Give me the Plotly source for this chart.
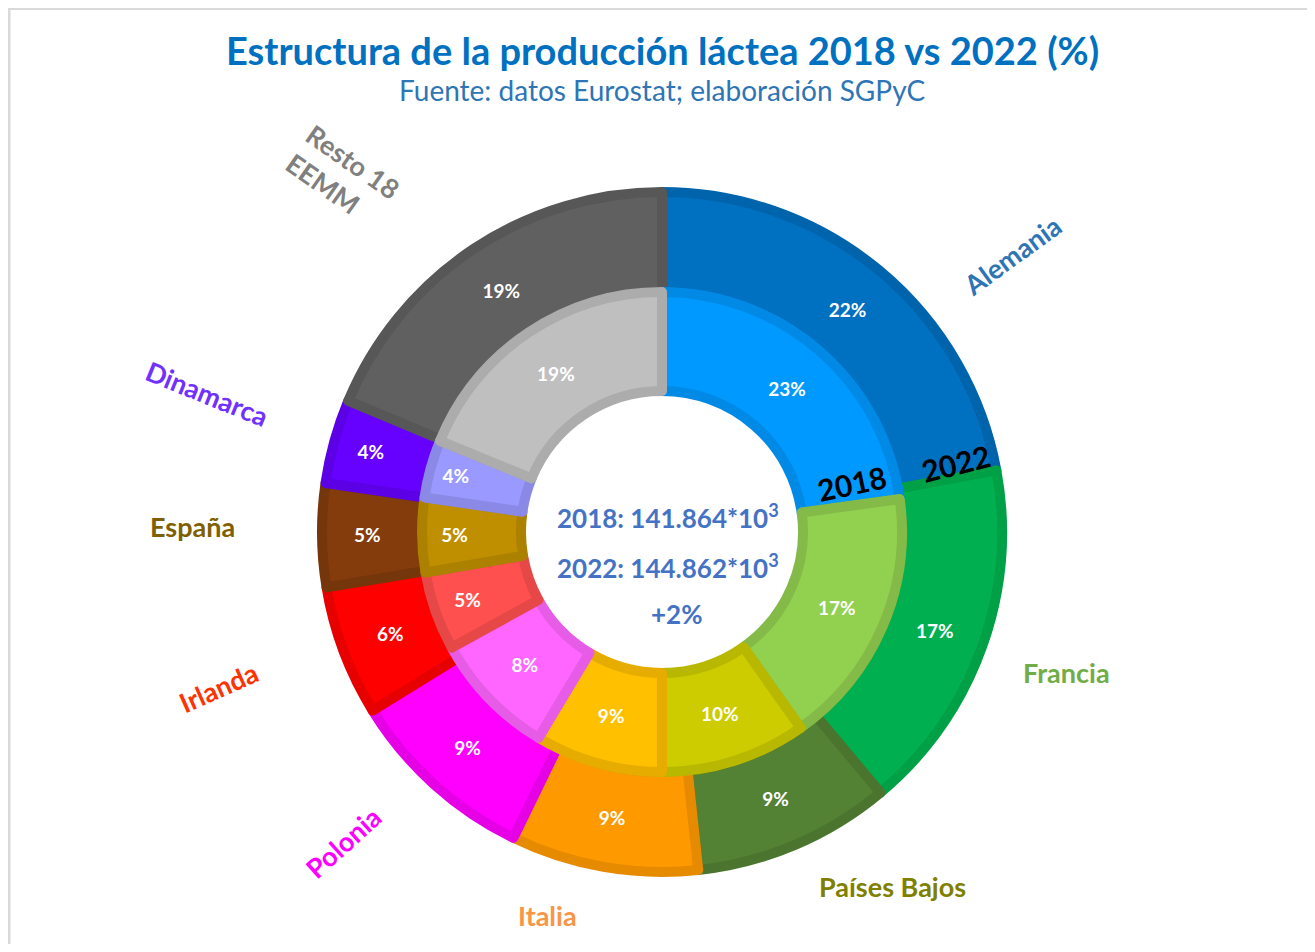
import plotly.graph_objects as go

# The page body has an 8px margin; the figure is shrunk and coordinates shifted.
OFF = 8
W, H = 1315 - 2 * OFF, 952 - 2 * OFF

countries = ["Alemania", "Francia", "Países Bajos", "Italia", "Polonia",
             "Irlanda", "España", "Dinamarca", "Resto 18 EEMM"]
share_2022 = [22.1, 16.8, 9.4, 8.9, 9.0, 6.2, 4.9, 4.0, 18.7]
share_2018 = [22.8, 17.4, 9.8, 8.6, 8.4, 5.3, 5.0, 3.9, 18.8]

fill_2022 = ["#0070C0", "#00B050", "#548235", "#FF9900", "#FF00FF",
             "#FF0000", "#843C0C", "#6600FF", "#606060"]
edge_2022 = ["#0064AC", "#00A046", "#4B752F", "#E68A00", "#E600E6",
             "#E60000", "#76360B", "#5C00E6", "#575757"]
fill_2018 = ["#0099FF", "#92D050", "#CCCC00", "#FFC000", "#FF66FF",
             "#FF5050", "#BF8F00", "#9999FF", "#BFBFBF"]
edge_2018 = ["#008AE6", "#84BB48", "#B8B800", "#E6AD00", "#E65CE6",
             "#E64848", "#AC8100", "#8A8AE6", "#ACACAC"]

label_colors = ["#2E75B6", "#70AD47", "#808000", "#F79646", "#FF00FF",
                "#FF3300", "#7F6000", "#7030FF", "#808080"]
label_text = ["Alemania", "Francia", "Países Bajos", "Italia", "Polonia",
              "Irlanda", "España", "Dinamarca", "Resto 18<br>EEMM"]

total_2018 = "141.864"
total_2022 = "144.862"
change = "+2%"

CX, CY = 662 - OFF, 532 - OFF  # pixel centre inside the figure
R_OUT, R_MID, R_HOLE = 340, 240, 141
EDGE_W = 10


def dom(r):
    return dict(x=[(CX - r) / W, (CX + r) / W],
                y=[(H - CY - r) / H, (H - CY + r) / H])


pct_font = dict(family="Lato", size=19, color="white", weight="bold")

fig = go.Figure()
fig.add_trace(go.Pie(
    labels=countries, values=share_2022, sort=False, direction="clockwise",
    rotation=0, hole=R_MID / R_OUT, domain=dom(R_OUT),
    marker=dict(colors=fill_2022, line=dict(color=edge_2022, width=EDGE_W)),
    textinfo="percent", texttemplate="%{percent:.0%}",
    textposition="inside", insidetextorientation="horizontal",
    textfont=pct_font, hoverinfo="label+percent", showlegend=False, name="2022"))
fig.add_trace(go.Pie(
    labels=countries, values=share_2018, sort=False, direction="clockwise",
    rotation=0, hole=R_HOLE / R_MID, domain=dom(R_MID),
    marker=dict(colors=fill_2018, line=dict(color=edge_2018, width=EDGE_W)),
    textinfo="percent", texttemplate="%{percent:.0%}",
    textposition="inside", insidetextorientation="horizontal",
    textfont=pct_font, hoverinfo="label+percent", showlegend=False, name="2018"))

ann = []


def add(text, px, py, size, color, bold=True, angle=0, align="center"):
    px, py = px - OFF, py - OFF
    ann.append(dict(text=text, x=px / W, y=1 - py / H, xref="paper", yref="paper",
                    showarrow=False, xanchor="center", yanchor="middle",
                    textangle=angle, align=align,
                    font=dict(family="Lato", size=size, color=color,
                              weight="bold" if bold else "normal")))


add("Estructura de la producción láctea 2018 vs 2022 (%)", 662, 50, 38, "#0070C0")
add("Fuente: datos Eurostat; elaboración SGPyC", 662, 90, 28, "#2E75B6", bold=False)

add(f"2018: {total_2018}*10<sup>3</sup>", 668, 517, 26, "#4472C4")
add(f"2022: {total_2022}*10<sup>3</sup>", 668, 566, 26, "#4472C4")
add(change, 677, 614, 26, "#4472C4")

add("2018", 852, 483, 30, "black", angle=-12)
add("2022", 956, 463, 30, "black", angle=-14)

label_pos = [(1012, 256, -36), (1066, 672, 0), (892, 886, 0), (547, 915, 0),
             (343, 842, -42), (218, 687, -24), (192, 526, 0), (207, 393, 22),
             (343, 176, 35)]
for t, (px, py, a), c in zip(label_text, label_pos, label_colors):
    add(t, px, py, 27, c, angle=a, align="left")

fig.update_layout(
    width=W, height=H, autosize=False,
    margin=dict(l=0, r=0, t=0, b=0),
    paper_bgcolor="white", plot_bgcolor="white",
    annotations=ann,
    shapes=[dict(type="rect", xref="paper", yref="paper",
                 x0=1 / W, x1=1.05, y0=-0.05, y1=1 - 0.5 / H,
                 line=dict(color="#D9D9D9", width=3))],
)

fig.write_html("out.html")
